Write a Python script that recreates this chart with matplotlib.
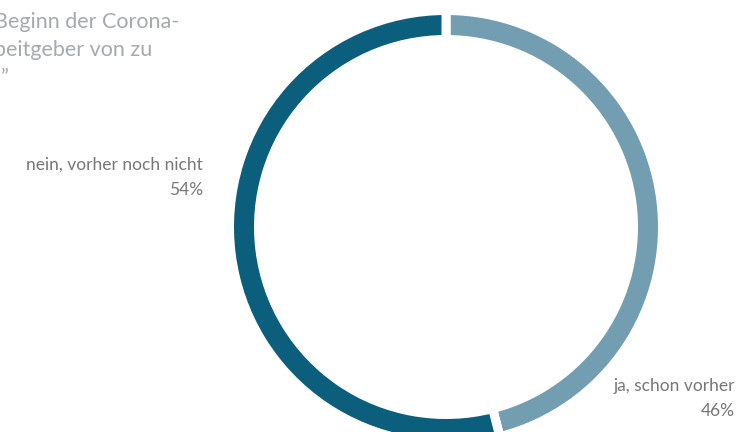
import matplotlib.pyplot as plt

# Anteile der Antworten
labels = ["ja, schon vorher", "nein, vorher noch nicht"]
values = [46, 54]
colors = ["#739eb2", "#0b5e7c"]

title_lines = ["Beginn der Corona-", "beitgeber von zu", "\u201d"]

W, H = 742, 432
fig = plt.figure(figsize=(W / 100, H / 100), dpi=100)
ax = fig.add_axes([0, 0, 1, 1])
ax.set_xlim(0, W)
ax.set_ylim(0, H)
ax.set_aspect("equal")
ax.axis("off")

# Ring mit weißen Trennfugen
gap = 9
r_out, ring = 212, 20
ax.pie(values, colors=colors, startangle=90, counterclock=False,
       center=(446, H - 227), radius=r_out + gap / 2,
       wedgeprops=dict(width=ring + gap, edgecolor="white",
                       linewidth=gap * 72 / 100))
ax.set_xlim(0, W)
ax.set_ylim(0, H)

# Beschriftungen
txt = dict(color="#777777", fontsize=12.5, family="Lato", ha="right")
ax.text(203, H - 170, labels[1], **txt)
ax.text(203, H - 195, f"{values[1]}%", **txt)
ax.text(735, H - 391, labels[0], **txt)
ax.text(735, H - 416, f"{values[0]}%", **txt)

# abgeschnittener Titel oben links
for i, line in enumerate(title_lines):
    x = -6 if i < 2 else 1
    ax.text(x, H - 28 - i * 28, line, color="#a3aab0", fontsize=15.5,
            family="Lato", ha="left")

fig.savefig("out.png", dpi=100)
